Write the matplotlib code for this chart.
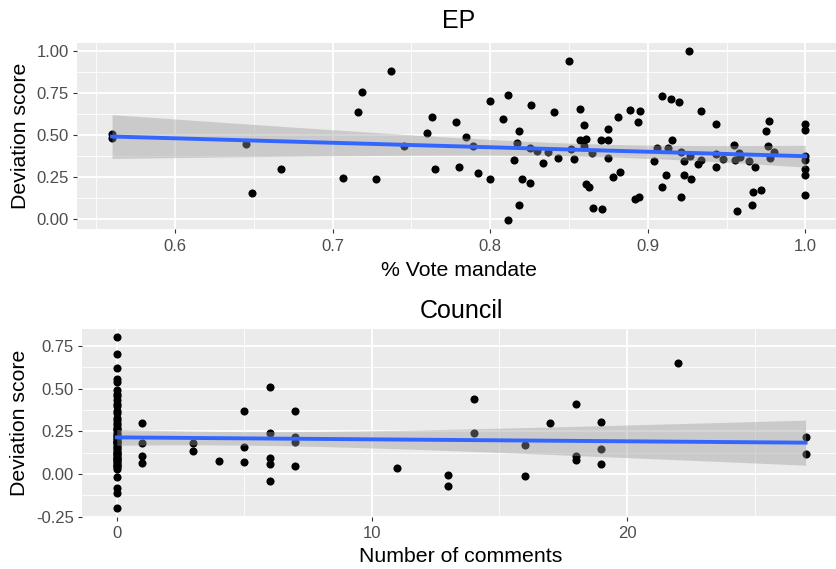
import numpy as np
import matplotlib
matplotlib.use("Agg")
import matplotlib.pyplot as plt
from matplotlib.ticker import MultipleLocator, FormatStrFormatter

plt.rcParams["font.family"] = ["Liberation Sans", "DejaVu Sans"]

# --- data --------------------------------------------------------------------
ep_mandate = [
    0.560, 0.560, 0.645, 0.649, 0.667, 0.7065, 0.716, 0.7185, 0.737, 0.7276, 0.7456,
    0.763, 0.760, 0.765, 0.778, 0.7845, 0.780, 0.789, 0.792, 0.800, 0.800,
    0.811, 0.808, 0.818, 0.817, 0.815, 0.820, 0.825, 0.818, 0.811, 0.826,
    0.825, 0.830, 0.8335, 0.8366, 0.8406, 0.843, 0.8497, 0.851, 0.853, 0.857,
    0.8597, 0.857, 0.861, 0.8597, 0.861, 0.863, 0.8646, 0.865, 0.871, 0.870,
    0.875, 0.875, 0.875, 0.8777, 0.8825, 0.881, 0.889, 0.895, 0.8935, 0.892,
    0.8944, 0.904, 0.906, 0.909, 0.9145, 0.920, 0.909, 0.9117, 0.913, 0.9154,
    0.921, 0.923, 0.923, 0.9274, 0.921, 0.926, 0.927, 0.932, 0.9335, 0.934,
    0.9433, 0.943, 0.9433, 0.9477, 0.955, 0.9566, 0.9556, 0.9577, 0.9587, 0.9644,
    0.9678, 0.9663, 0.9668, 0.972, 0.975, 0.9767, 0.9763, 0.9778, 0.980,
    1.0, 1.0, 1.0, 1.0, 1.0, 1.0, 1.0,
]
ep_dev = [
    0.483, 0.505, 0.450, 0.158, 0.300, 0.243, 0.635, 0.759, 0.882, 0.237, 0.438,
    0.609, 0.513, 0.296, 0.578, 0.487, 0.310, 0.438, 0.276, 0.702, 0.241,
    0.738, 0.598, 0.527, 0.454, 0.353, 0.239, 0.217, 0.083, -0.006, 0.679,
    0.424, 0.404, 0.335, 0.400, 0.639, 0.365, 0.943, 0.420, 0.359, 0.653,
    0.562, 0.473, 0.475, 0.436, 0.207, 0.193, 0.394, 0.065, 0.059, 0.473,
    0.534, 0.473, 0.367, 0.254, 0.282, 0.607, 0.649, 0.643, 0.578, 0.122,
    0.134, 0.345, 0.424, 0.732, 0.714, 0.696, 0.193, 0.262, 0.424, 0.473,
    0.400, 0.345, 0.266, 0.237, 0.134, 1.000, 0.375, 0.329, 0.645, 0.355,
    0.566, 0.391, 0.312, 0.361, 0.440, 0.049, 0.351, 0.394, 0.371, 0.345,
    0.312, 0.085, 0.164, 0.176, 0.525, 0.586, 0.436, 0.365, 0.402,
    0.566, 0.533, 0.379, 0.351, 0.300, 0.262, 0.142,
]

# the x = 0 column is dense; many points overlap there
council_zero_dev = [
    0.80, 0.70, 0.62, 0.555, 0.54, 0.49, 0.47, 0.455, 0.43, 0.41, 0.40, 0.37,
    0.355, 0.33, 0.315, 0.30, 0.27, 0.255, 0.24, 0.21, 0.195, 0.18, 0.16, 0.14,
    0.125, 0.10, 0.085, 0.06, 0.045, 0.03, -0.02, -0.08, -0.11, -0.20,
    0.22, 0.19, 0.17, 0.15, 0.13, 0.11, 0.09, 0.07, 0.05, 0.23, 0.205, 0.185,
    0.115, 0.095, 0.075, 0.04, 0.265, 0.285,
]
council_other_comments = [
    1, 1, 1, 1, 3, 3, 4, 5, 5, 5, 6, 6, 6, 6, 6, 7, 7, 7, 7, 11, 13, 13,
    14, 14, 16, 16, 17, 18, 18, 18, 19, 19, 19, 22, 27, 27,
]
council_other_dev = [
    0.298, 0.182, 0.104, 0.062, 0.182, 0.137, 0.076, 0.368, 0.157, 0.068,
    0.506, 0.239, 0.092, 0.059, -0.039, 0.366, 0.215, 0.186, 0.047, 0.037,
    -0.004, -0.069, 0.439, 0.239, 0.172, -0.012, 0.298, 0.412, 0.108, 0.084,
    0.306, 0.149, 0.059, 0.647, 0.214, 0.115,
]
council_comments = [0] * len(council_zero_dev) + council_other_comments
council_dev = council_zero_dev + council_other_dev

BG = "#EBEBEB"
TICK_C = "#4D4D4D"
LINE_C = "#3366FF"


def lm_band(x, y, n_pts=80, t=1.98):
    """Linear fit with 95% confidence band, like geom_smooth(method='lm')."""
    x = np.asarray(x, float); y = np.asarray(y, float)
    n = len(x)
    b, a = np.polyfit(x, y, 1)
    resid = y - (a + b * x)
    s = np.sqrt(np.sum(resid ** 2) / (n - 2))
    xbar = x.mean(); sxx = np.sum((x - xbar) ** 2)
    xs = np.linspace(x.min(), x.max(), n_pts)
    fit = a + b * xs
    se = s * np.sqrt(1 / n + (xs - xbar) ** 2 / sxx)
    return xs, fit, fit - t * se, fit + t * se


def gg_panel(ax, x, y, title, xlabel, xlim, ylim, xmaj, ymaj, title_pad, xlabel_pad):
    ax.set_facecolor(BG)
    for sp in ax.spines.values():
        sp.set_visible(False)
    ax.scatter(x, y, s=34, color="black", linewidths=0, zorder=2)
    xs, fit, lo, hi = lm_band(x, y)
    ax.fill_between(xs, lo, hi, color="#999999", alpha=0.4, linewidth=0, zorder=3)
    ax.plot(xs, fit, color=LINE_C, lw=2.8, zorder=4)
    ax.set_xlim(*xlim); ax.set_ylim(*ylim)
    ax.xaxis.set_major_locator(MultipleLocator(xmaj))
    ax.xaxis.set_minor_locator(MultipleLocator(xmaj / 2))
    ax.yaxis.set_major_locator(MultipleLocator(ymaj))
    ax.yaxis.set_minor_locator(MultipleLocator(ymaj / 2))
    ax.yaxis.set_major_formatter(FormatStrFormatter("%.2f"))
    ax.grid(which="major", color="white", lw=1.3, zorder=0)
    ax.grid(which="minor", color="white", lw=0.6, zorder=0)
    ax.set_axisbelow(True)
    ax.tick_params(which="major", length=3, width=0.8, color="#333333",
                   labelcolor=TICK_C, labelsize=12, pad=3)
    ax.tick_params(axis="x", which="major", pad=4)
    ax.tick_params(which="minor", length=0)
    ax.set_title(title, fontsize=18, pad=title_pad)
    ax.set_xlabel(xlabel, fontsize=15.3, labelpad=xlabel_pad)
    ax.set_ylabel("Deviation score", fontsize=15.3, labelpad=5)


fig = plt.figure(figsize=(8.37, 5.69), dpi=100)
ax1 = fig.add_axes([77.4 / 837, 1 - 229.5 / 569, (840 - 77.4) / 837, (229.5 - 42.5) / 569])
ax2 = fig.add_axes([82.3 / 837, 1 - 516.7 / 569, (840 - 82.3) / 837, (516.7 - 328.7) / 569])

gg_panel(ax1, ep_mandate, ep_dev, "EP", "% Vote mandate",
         (0.538, 1.022), (-0.0605, 1.0505), 0.1, 0.25, title_pad=10.5, xlabel_pad=5)
ax1.xaxis.set_major_formatter(FormatStrFormatter("%.1f"))

gg_panel(ax2, council_comments, council_dev, "Council", "Number of comments",
         (-1.35, 28.35), (-0.25, 0.85), 10, 0.25, title_pad=8, xlabel_pad=4)

fig.savefig("out.png", dpi=100, facecolor="white")
